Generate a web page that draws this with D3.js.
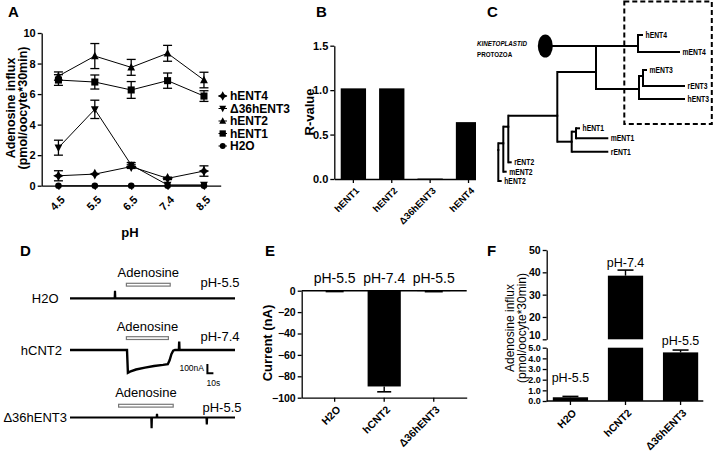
<!DOCTYPE html>
<html><head><meta charset="utf-8">
<script src="https://cdn.jsdelivr.net/npm/d3@7"></script>
<style>body{margin:0;background:#fff}svg{display:block}text{font-family:"Liberation Sans",Arial,sans-serif;fill:#000}</style>
</head><body><svg id="c" width="713" height="465"></svg>
<script>
// ---------- DATA ----------
// Panel A
const pHs = ["4.5","5.5","6.5","7.4","8.5"];
const legendNames = ["hENT4","\u039436hENT3","hENT2","hENT1","H2O"];
const hENT4Vals = [0.65,0.76,1.25,0.48,0.96];
const hENT4Err  = [0.33,0.05,0.12,0.08,0.34];
const d36Vals   = [2.49,5.0,1.36,0.05,0.05];
const d36Err    = [0.49,0.6,0.15,0.03,0.03];
const hENT2Vals = [7.18,8.49,7.75,8.67,6.92];
const hENT2Err  = [0.27,0.82,0.52,0.52,0.51];
const hENT1Vals = [6.92,6.79,6.27,6.88,5.87];
const hENT1Err  = [0.35,0.46,0.55,0.5,0.35];
const h2oVals   = [0,0,0,0,0];
const h2oErr    = [0,0,0,0,0];
const yTicksA = [0,2,4,6,8,10];
// Panel B
const rCats = ["hENT1","hENT2","\u039436hENT3","hENT4"];
const rValues = [1.02,1.02,0.005,0.64];
const yTicksB = [0,0.5,1.0,1.5];
// Panel C (tree): node, parent, distance from root, row position
const treeNodes = [
  ["root",null,0,150],["n_m2","root",5,143.3],["hENT2","root",3.4,181],
  ["n_r2","n_m2",10,126.7],["mENT2","n_m2",8.4,171.7],
  ["n_mid","n_r2",59,115.7],["rENT2","n_r2",13.4,162.3],
  ["n_top","n_mid",97.7,72],["n_ent1","n_mid",73.4,141.7],
  ["n_hm1","n_ent1",77.7,131.7],["rENT1","n_ent1",110,151.7],
  ["hENT1","n_hm1",81.7,128.3],["mENT1","n_hm1",110,138.3],
  ["kineto","n_top",50,46],["n_ent4","n_top",139.7,46],
  ["hENT4","n_ent4",144.7,35],["mENT4","n_ent4",181.7,52],
  ["n_ent3","n_top",140.7,89],["n_mr3","n_ent3",144.7,76],
  ["hENT3","n_ent3",186.7,99],["mENT3","n_mr3",148.7,70],["rENT3","n_mr3",186.7,86]
];
// Panel D traces: [time s, current nA]
const traceH2O   = [[0,0],[74.5,0],[75,80],[75.5,0],[275,0]];
const traceHCNT2 = [[0,0],[95,0],[96.5,-244],[100,-232],[110,-210],[125,-190],[140,-172],[155,-160],[163,-152],[166,-110],[169,-45],[172,-8],[175,0],[181.5,0],[182,90],[182.5,0],[275,0]];
const traceD36   = [[0,0],[135.5,0],[136,-115],[136.5,0],[144.5,0],[145,40],[145.5,0],[227.5,0],[228,-75],[228.5,0],[275,0]];
const adenosineWindows = [[94,167],[94,164],[81,172]];
const traceLabels = ["H2O","hCNT2","\u039436hENT3"];
const tracePH = ["pH-5.5","pH-7.4","pH-5.5"];
// Panel E
const eCats = ["H2O","hCNT2","\u039436hENT3"];
const eValues = [-0.3,-89.5,-0.4];
const eErr = [0.5,5,0.5];
const ePH = ["pH-5.5","pH-7.4","pH-5.5"];
const yTicksE = [0,-20,-40,-60,-80,-100];
// Panel F
const fCats = ["H2O","hCNT2","\u039436hENT3"];
const fValues = [0.35,38.5,4.56];
const fErr = [0.08,2.5,0.22];
const fPH = ["pH-5.5","pH-7.4","pH-5.5"];
const yTicksFLow = [0,1,2,3,4,5];
const yTicksFHigh = [10,20,30,40,50];

// ---------- DRAW ----------
const svg = d3.select("#c");
const FONT = '"Liberation Sans",Arial,sans-serif';
function styleAxis(g, fs){
  g.selectAll("text").attr("font-weight","bold").attr("font-size",fs||10.5).attr("font-family",FONT).attr("fill","#000");
  g.selectAll(".domain").attr("stroke","#000").attr("stroke-width",1.3);
  g.selectAll(".tick line").attr("stroke","#000").attr("stroke-width",1.3);
}
function panelLabel(t,x,y){svg.append("text").attr("x",x).attr("y",y).attr("font-weight","bold").attr("font-size",15).text(t);}
function rotateTicks(g,dx,dy){
  g.selectAll(".tick text").attr("text-anchor","end").attr("transform",`translate(${dx},${dy}) rotate(-45)`).attr("dy","0.35em").attr("y",0).attr("x",0);
}
function narrowText(g,x,y,txt,fs,opts){
  const t=g.append("text").attr("transform",`translate(${x},${y}) scale(0.8,1)`).attr("font-weight","bold").attr("font-size",fs).text(txt);
  if(opts&&opts.italic) t.attr("font-style","italic");
  return t;
}

// ===== Panel A =====
panelLabel("A",8,17);
const xA = d3.scalePoint().domain(pHs).range([41.7,220.7]).padding(0.46);
const yA = d3.scaleLinear().domain([0,10]).range([185.7,33]);
const gAy = svg.append("g").attr("transform","translate(41.7,0)").call(d3.axisLeft(yA).tickValues(yTicksA).tickSize(4).tickSizeOuter(0).tickPadding(2));
styleAxis(gAy,11);
const gAx = svg.append("g").attr("transform","translate(0,185.7)").call(d3.axisBottom(xA).tickSize(4).tickSizeOuter(0));
styleAxis(gAx,11);
rotateTicks(gAx,4,12);
svg.append("text").attr("transform","translate(15,108) rotate(-90)").attr("text-anchor","middle").attr("font-weight","bold").attr("font-size",12.5).text("Adenosine influx");
svg.append("text").attr("transform","translate(27,108) rotate(-90)").attr("text-anchor","middle").attr("font-weight","bold").attr("font-size",12.5).text("(pmol/oocyte*30min)");
svg.append("text").attr("x",130).attr("y",237).attr("text-anchor","middle").attr("font-weight","bold").attr("font-size",13).text("pH");

const star4 = {draw(ctx,size){const r=Math.sqrt(size)*0.75,i=r*0.35;ctx.moveTo(0,-r);ctx.lineTo(i,-i);ctx.lineTo(r,0);ctx.lineTo(i,i);ctx.lineTo(0,r);ctx.lineTo(-i,i);ctx.lineTo(-r,0);ctx.lineTo(-i,-i);ctx.closePath();}};
const triDown = {draw(ctx,size){const s=Math.sqrt(size)*1.1;ctx.moveTo(-s/2,-s*0.4);ctx.lineTo(s/2,-s*0.4);ctx.lineTo(0,s*0.55);ctx.closePath();}};
const triUp = {draw(ctx,size){const s=Math.sqrt(size)*1.1;ctx.moveTo(-s/2,s*0.4);ctx.lineTo(s/2,s*0.4);ctx.lineTo(0,-s*0.55);ctx.closePath();}};
const seriesA = [
  {vals:hENT4Vals,err:hENT4Err,sym:star4,size:50},
  {vals:d36Vals,err:d36Err,sym:triDown,size:50},
  {vals:hENT2Vals,err:hENT2Err,sym:triUp,size:50},
  {vals:hENT1Vals,err:hENT1Err,sym:d3.symbolSquare,size:50},
  {vals:h2oVals,err:h2oErr,sym:d3.symbolCircle,size:34}
];
const lineA = d3.line().x((d,i)=>xA(pHs[i])).y(d=>yA(d));
seriesA.forEach(s=>{
  const g = svg.append("g");
  g.append("path").attr("d",lineA(s.vals)).attr("fill","none").attr("stroke","#000").attr("stroke-width",1);
  s.vals.forEach((v,i)=>{
    const x=xA(pHs[i]);
    if(s.err[i]>0.06){
      const y1=yA(v+s.err[i]),y2=yA(v-s.err[i]);
      g.append("line").attr("x1",x).attr("x2",x).attr("y1",y1).attr("y2",y2).attr("stroke","#000").attr("stroke-width",1.3);
      [y1,y2].forEach(yy=>g.append("line").attr("x1",x-4.5).attr("x2",x+4.5).attr("y1",yy).attr("y2",yy).attr("stroke","#000").attr("stroke-width",1.3));
    }
    g.append("path").attr("d",d3.symbol(s.sym,s.size)()).attr("transform",`translate(${x},${yA(v)})`).attr("fill","#000");
  });
});
// legend
const legY = d3.scalePoint().domain(legendNames).range([96,146]);
legendNames.forEach((n,i)=>{
  const y=legY(n);
  svg.append("line").attr("x1",218.5).attr("x2",227).attr("y1",y).attr("y2",y).attr("stroke","#000").attr("stroke-width",1);
  svg.append("path").attr("d",d3.symbol(seriesA[i].sym,seriesA[i].size*0.8)()).attr("transform",`translate(222.7,${y})`).attr("fill","#000");
  svg.append("text").attr("x",230).attr("y",y+4.2).attr("font-weight","bold").attr("font-size",12).text(n);
});

// ===== Panel B =====
panelLabel("B",316,17);
svg.append("clipPath").attr("id","clipB").append("rect").attr("x",290).attr("y",0).attr("width",186).attr("height",240);
const gB = svg.append("g").attr("clip-path","url(#clipB)");
const xB = d3.scaleBand().domain(rCats).range([334.3,487.6]).paddingInner(0.34).paddingOuter(0.167);
const yB = d3.scaleLinear().domain([0,1.5]).range([179,45.7]);
gB.selectAll("rect.bar").data(rValues).enter().append("rect").attr("class","bar")
  .attr("x",(d,i)=>xB(rCats[i])).attr("width",xB.bandwidth()).attr("y",d=>yB(d)).attr("height",d=>yB(0)-yB(d)).attr("fill","#000");
const gBy = gB.append("g").attr("transform","translate(334.3,0)").call(d3.axisLeft(yB).tickValues(yTicksB).tickFormat(d3.format(".1f")).tickSize(4).tickSizeOuter(0).tickPadding(2));
styleAxis(gBy,11);
const gBx = gB.append("g").attr("transform","translate(0,179)").call(d3.axisBottom(xB).tickSize(4).tickSizeOuter(0));
styleAxis(gBx,9.5);
rotateTicks(gBx,4,10);
svg.append("text").attr("transform","translate(314,112) rotate(-90)").attr("text-anchor","middle").attr("font-weight","bold").attr("font-size",13).text("R-value");

// ===== Panel C (tree) =====
panelLabel("C",487,17);
const xT = d3.scaleLinear().domain([0,100]).range([498.3,598.3]);
const yT = d3.scaleLinear().domain([0,100]).range([0,100]);
const nodeMap = new Map(treeNodes.map(n=>[n[0],{id:n[0],parent:n[1],d:n[2],r:n[3]}]));
const gC = svg.append("g");
treeNodes.forEach(n=>{
  const node=nodeMap.get(n[0]); if(!node.parent) return;
  const p=nodeMap.get(node.parent);
  gC.append("line").attr("x1",xT(p.d)).attr("x2",xT(node.d)).attr("y1",yT(node.r)).attr("y2",yT(node.r)).attr("stroke","#000").attr("stroke-width",2);
  gC.append("line").attr("x1",xT(p.d)).attr("x2",xT(p.d)).attr("y1",yT(node.r)).attr("y2",yT(p.r)).attr("stroke","#000").attr("stroke-width",2).attr("stroke-linecap","square");
  const isLeaf = !treeNodes.some(m=>m[1]===n[0]);
  if(isLeaf && n[0]!=="kineto") narrowText(gC,xT(node.d)+2.5,yT(node.r)+3,n[0],8.5);
});
const kin = nodeMap.get("kineto");
gC.append("ellipse").attr("cx",xT(kin.d)-3).attr("cy",yT(kin.r)).attr("rx",7.5).attr("ry",11.5).attr("fill","#000");
narrowText(gC,477,46,"KINETOPLASTID",7.8,{italic:true});
narrowText(gC,477,57,"PROTOZOA",7.8);
gC.append("rect").attr("x",624.3).attr("y",1.5).attr("width",87.5).attr("height",122.5).attr("fill","none").attr("stroke","#000").attr("stroke-width",2).attr("stroke-dasharray","5,3");

// ===== Panel D (traces) =====
panelLabel("D",20,256);
const tD = d3.scaleLinear().domain([0,275]).range([70,235]);
const baselines = [298.3,350,417.5];
const traces = [traceH2O,traceHCNT2,traceD36];
const labelAdenY = [276.7,330.7,397.3];
const barY = [283.3,336.7,404.3];
traces.forEach((tr,k)=>{
  const cD = d3.scaleLinear().domain([-100,0]).range([baselines[k]+9.3,baselines[k]]);
  const ln = d3.line().x(d=>tD(d[0])).y(d=>cD(d[1]));
  svg.append("path").attr("d",ln(tr)).attr("fill","none").attr("stroke","#000").attr("stroke-width",k===1?2.4:2.2);
  const w=adenosineWindows[k];
  svg.append("rect").attr("x",tD(w[0])).attr("y",barY[k]).attr("width",tD(w[1])-tD(w[0])).attr("height",2.8).attr("fill","#fff").attr("stroke","#777").attr("stroke-width",1.2);
  svg.append("text").attr("x",(tD(w[0])+tD(w[1]))/2).attr("y",labelAdenY[k]).attr("text-anchor","middle").attr("font-size",13).text("Adenosine");
  svg.append("text").attr("x",[58.5,62,67][k]).attr("y",baselines[k]+4.5).attr("text-anchor","end").attr("font-size",13).text(traceLabels[k]);
  svg.append("text").attr("x",[200.5,200.5,202.5][k]).attr("y",[287,341,411.7][k]).attr("font-size",13).text(tracePH[k]);
});
// scale bar 100 nA / 10 s
const cBar = d3.scaleLinear().domain([-100,0]).range([373.3,364]);
svg.append("path").attr("d",`M${tD(229)},${cBar(0)}V${cBar(-100)}H${tD(239)}`).attr("fill","none").attr("stroke","#000").attr("stroke-width",2);
svg.append("text").attr("x",204).attr("y",371).attr("text-anchor","end").attr("font-size",8.5).text("100nA");
svg.append("text").attr("x",206.5).attr("y",386).attr("font-size",8.5).text("10s");

// ===== Panel E =====
panelLabel("E",265,256);
const xE = d3.scaleBand().domain(eCats).range([301.7,466.7]).padding(0.33);
const yE = d3.scaleLinear().domain([-100,0]).range([397.7,290.7]);
svg.selectAll("rect.ebar").data(eValues).enter().append("rect").attr("class","ebar")
  .attr("x",(d,i)=>xE(eCats[i])).attr("width",xE.bandwidth()).attr("y",yE(0)).attr("height",d=>yE(d)-yE(0)).attr("fill","#000");
eValues.forEach((v,i)=>{
  const cx=xE(eCats[i])+xE.bandwidth()/2, y2=yE(v-eErr[i]);
  const cw = i===1?7:9;
  svg.append("line").attr("x1",cx).attr("x2",cx).attr("y1",yE(v)).attr("y2",y2).attr("stroke","#000").attr("stroke-width",1.4);
  svg.append("line").attr("x1",cx-cw).attr("x2",cx+cw).attr("y1",y2).attr("y2",y2).attr("stroke","#000").attr("stroke-width",1.6);
  svg.append("text").attr("x",cx).attr("y",283.3).attr("text-anchor","middle").attr("font-size",14).text(ePH[i]);
});
const gEy = svg.append("g").attr("transform","translate(301.7,0)").call(d3.axisLeft(yE).tickValues(yTicksE).tickSize(4).tickSizeOuter(0).tickPadding(2));
styleAxis(gEy,10.5);
const gEx = svg.append("g").attr("transform","translate(0,397.7)").call(d3.axisBottom(xE).tickSize(4).tickSizeOuter(0));
styleAxis(gEx,10.5);
rotateTicks(gEx,4,10);
svg.append("line").attr("x1",301.7).attr("x2",466.7).attr("y1",yE(0)).attr("y2",yE(0)).attr("stroke","#000").attr("stroke-width",1.5);
svg.append("text").attr("transform","translate(272,343) rotate(-90)").attr("text-anchor","middle").attr("font-weight","bold").attr("font-size",13).text("Current (nA)");

// ===== Panel F =====
panelLabel("F",487,256);
const xF = d3.scaleBand().domain(fCats).range([544,707]).paddingInner(0.36).paddingOuter(0.16);
const yFL = d3.scaleLinear().domain([0,5]).range([401,347.7]);
const yFH = d3.scaleLinear().domain([10,50]).range([339.3,250]);
fValues.forEach((v,i)=>{
  const x=xF(fCats[i]), w=xF.bandwidth(), cx=x+w/2;
  const topLow = v>5?yFL(5):yFL(v);
  svg.append("rect").attr("x",x).attr("y",topLow).attr("width",w).attr("height",yFL(0)-topLow).attr("fill","#000");
  let yv, ye;
  if(v>10){
    svg.append("rect").attr("x",x).attr("y",yFH(v)).attr("width",w).attr("height",yFH(10)-yFH(v)).attr("fill","#000");
    yv=yFH(v); ye=yFH(v+fErr[i]);
  } else { yv=yFL(v); ye=yFL(v+fErr[i]); }
  svg.append("line").attr("x1",cx).attr("x2",cx).attr("y1",yv).attr("y2",ye).attr("stroke","#000").attr("stroke-width",1.4);
  svg.append("line").attr("x1",cx-8).attr("x2",cx+8).attr("y1",ye).attr("y2",ye).attr("stroke","#000").attr("stroke-width",1.6);
  const ly = [381.7,266.7,345][i];
  svg.append("text").attr("x",cx).attr("y",ly).attr("text-anchor","middle").attr("font-size",12.5).text(fPH[i]);
});
const gFL = svg.append("g").attr("transform","translate(546.7,0)").call(d3.axisLeft(yFL).tickValues(yTicksFLow).tickSize(4).tickSizeOuter(0).tickPadding(2));
styleAxis(gFL,9);
const gFH = svg.append("g").attr("transform","translate(546.7,0)").call(d3.axisLeft(yFH).tickValues(yTicksFHigh).tickSize(4).tickSizeOuter(0).tickPadding(2));
styleAxis(gFH,10.5);
gFH.selectAll(".tick").filter(d=>d===10).select("text").attr("dy","-0.05em");
const gFx = svg.append("g").attr("transform","translate(0,401)").call(d3.axisBottom(xF).tickSize(4).tickSizeOuter(0));
styleAxis(gFx,10.5);
rotateTicks(gFx,4,10);
gFx.select(".domain").attr("d","M546.7,0H703.3");
svg.append("text").attr("transform","translate(514,328) rotate(-90)").attr("text-anchor","middle").attr("font-size",12).text("Adenosine influx");
svg.append("text").attr("transform","translate(525.5,328) rotate(-90)").attr("text-anchor","middle").attr("font-size",12).text("(pmol/oocyte*30min)");
</script></body></html>
